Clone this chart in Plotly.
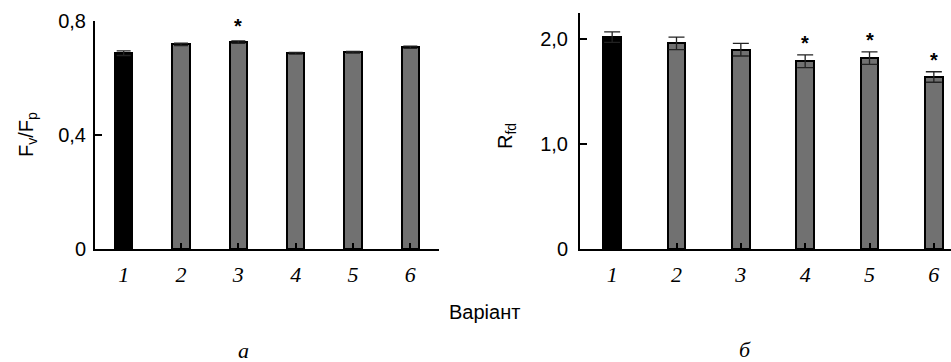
import plotly.graph_objects as go

# ---- data ----
categories = [1, 2, 3, 4, 5, 6]
cat_labels = ["1", "2", "3", "4", "5", "6"]

fvfp_values = [0.687, 0.718, 0.726, 0.687, 0.690, 0.708]
fvfp_errors = [0.008, 0.004, 0.004, 0.003, 0.003, 0.004]
fvfp_signif = [False, False, True, False, False, False]

rfd_values = [2.02, 1.96, 1.90, 1.79, 1.82, 1.64]
rfd_errors = [0.05, 0.06, 0.06, 0.06, 0.06, 0.05]
rfd_signif = [False, False, False, True, True, True]

left_tickvals = [0, 0.4, 0.8]
left_ticktext = ["0", "0,4", "0,8"]
right_tickvals = [0, 1.0, 2.0]
right_ticktext = ["0", "1,0", "2,0"]

W, H = 951, 362
BAR_COLORS = ["#000000"] + ["#717171"] * 5


def px(x):
    return x / W


def py(y):
    return 1 - y / H


fig = go.Figure()

fig.add_trace(go.Bar(
    x=categories, y=fvfp_values, width=0.30,
    marker=dict(color=BAR_COLORS, line=dict(color="black", width=2)),
    error_y=dict(type="data", array=fvfp_errors, visible=True,
                 color="#222222", thickness=1.3, width=7),
    xaxis="x", yaxis="y", showlegend=False,
))
fig.add_trace(go.Bar(
    x=categories, y=rfd_values, width=0.27,
    marker=dict(color=BAR_COLORS, line=dict(color="black", width=2)),
    error_y=dict(type="data", array=rfd_errors, visible=True,
                 color="#222222", thickness=1.3, width=8),
    xaxis="x2", yaxis="y2", showlegend=False,
))

axis_common = dict(showline=True, linecolor="black", linewidth=2,
                   showgrid=False, zeroline=False, ticks="inside",
                   tickcolor="black", tickwidth=2, automargin=False)

xfont = dict(family="Liberation Serif", size=22, color="black", style="italic")
yfont = dict(family="Liberation Sans", size=20, color="black")

fig.update_layout(
    template="none",
    width=W, height=H,
    margin=dict(l=0, r=0, t=0, b=0, autoexpand=False),
    paper_bgcolor="white", plot_bgcolor="white",
    bargap=0,
    xaxis=dict(domain=[px(95), px(439)], range=[0.5, 6.5],
               tickmode="array", tickvals=categories, ticktext=cat_labels,
               tickson="boundaries", ticklen=6, tickfont=xfont,
               ticklabelstandoff=5, anchor="y", **axis_common),
    yaxis=dict(domain=[py(249), py(21)], range=[0, 0.8],
               tickmode="array", tickvals=left_tickvals, ticktext=left_ticktext,
               ticklen=7, tickfont=yfont, ticklabelstandoff=3,
               anchor="x", **axis_common),
    xaxis2=dict(domain=[px(580), 1.0], range=[0.5, 6.5 - (966 - 951) / 64.3],
                tickmode="array", tickvals=categories, ticktext=cat_labels,
                tickson="boundaries", ticklen=6, tickfont=xfont,
                ticklabelstandoff=5, anchor="y2", **axis_common),
    yaxis2=dict(domain=[py(249), py(13)], range=[0, 2.25],
                tickmode="array", tickvals=right_tickvals, ticktext=right_ticktext,
                ticklen=7, tickfont=yfont, ticklabelstandoff=6,
                anchor="x2", **axis_common),
)

annotations = []
for c, v, e, s in zip(categories, fvfp_values, fvfp_errors, fvfp_signif):
    if s:
        annotations.append(dict(x=c, y=v + e, xref="x", yref="y", text="<b>*</b>",
                                showarrow=False, yanchor="bottom", yshift=2,
                                font=dict(family="Liberation Sans", size=20, color="black")))
for c, v, e, s in zip(categories, rfd_values, rfd_errors, rfd_signif):
    if s:
        annotations.append(dict(x=c, y=v + e, xref="x2", yref="y2", text="<b>*</b>",
                                showarrow=False, yanchor="bottom", yshift=-1,
                                font=dict(family="Liberation Sans", size=20, color="black")))

annotations += [
    dict(x=px(27), y=py(135), xref="paper", yref="paper", text="F<sub>v</sub>/F<sub>p</sub>",
         textangle=-90, showarrow=False, font=yfont, xanchor="center", yanchor="middle"),
    dict(x=px(507), y=py(136), xref="paper", yref="paper", text="R<sub>fd</sub>",
         textangle=-90, showarrow=False, font=yfont, xanchor="center", yanchor="middle"),
    dict(x=px(484), y=py(312), xref="paper", yref="paper", text="Варіант",
         showarrow=False, font=yfont, xanchor="center", yanchor="middle"),
    dict(x=px(243), y=py(350), xref="paper", yref="paper", text="а",
         showarrow=False, font=xfont, xanchor="center", yanchor="middle"),
    dict(x=px(745), y=py(349), xref="paper", yref="paper", text="б",
         showarrow=False, font=xfont, xanchor="center", yanchor="middle"),
]
fig.update_layout(annotations=annotations)

fig.write_html("out.html",
               config={"displayModeBar": False},
               post_script="document.body.style.margin='0';document.body.style.overflow='hidden';")
